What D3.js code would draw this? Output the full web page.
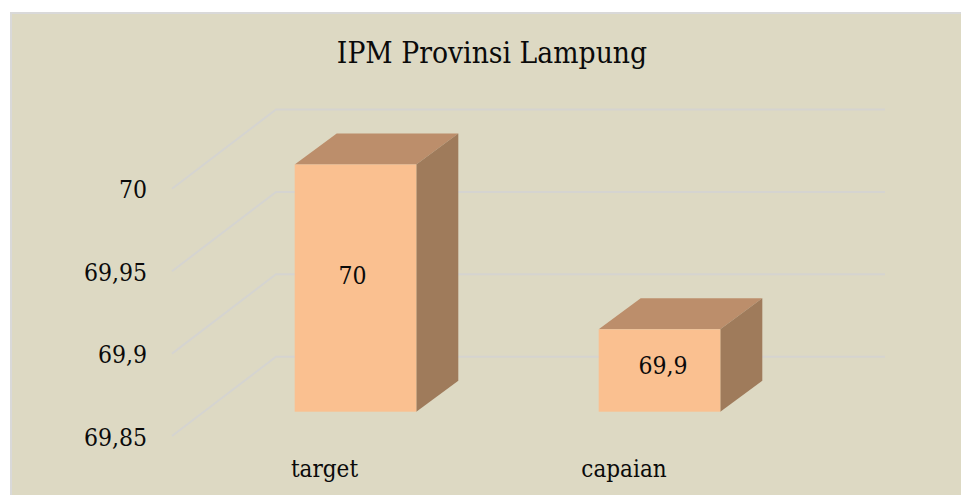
<!DOCTYPE html>
<html><head><meta charset="utf-8">
<script src="https://cdn.jsdelivr.net/npm/d3@7/dist/d3.min.js"></script>
<style>html,body{margin:0;padding:0;background:#fff}svg{display:block}
text{font-family:"DejaVu Serif Condensed","DejaVu Serif","Liberation Serif",serif;fill:#0a0a0a}</style>
</head><body><svg id="c" width="961" height="495"></svg>
<script>
const chartTitle = "IPM Provinsi Lampung";
const categories = ["target", "capaian"];
const values = [70, 69.9];
const valueLabels = ["70", "69,9"];
const ticks = [69.85, 69.9, 69.95, 70];
const tickLabels = ["69,85", "69,9", "69,95", "70"];

const svg = d3.select("#c");
const fmtTicks = new Map(ticks.map((t, i) => [t, tickLabels[i]]));

// Layout of the pseudo-3D plot
const y = d3.scaleLinear().domain([69.85, 70]).range([411.7, 164.5]);
const x = d3.scaleBand().domain(categories).range([203.5, 811.5]).paddingInner(0.6).paddingOuter(0.3);
const xLabel = d3.scalePoint().domain(categories).range([324.5, 624]);
const depth = {dx: 42, dy: 31};
const wall = {x0: 172, x1: 276, x2: 885, front: 24.3, back: 55};

// Panel
svg.append("rect").attr("x", 11).attr("y", 13).attr("width", 952).attr("height", 484)
  .attr("fill", "#ddd9c3").attr("stroke", "#d9d9d9").attr("stroke-width", 2);

// Gridlines
svg.append("g").selectAll("polyline").data(ticks).join("polyline")
  .attr("points", d => {
    const yy = y(d);
    return [[wall.x0, yy + wall.front], [wall.x1, yy - wall.back], [wall.x2, yy - wall.back]].join(" ");
  })
  .attr("fill", "none").attr("stroke", "#d5d4d0").attr("stroke-width", 2);

// Tick labels
svg.append("g").selectAll("text").data(ticks).join("text")
  .attr("x", 147).attr("y", d => y(d) + wall.front + 9.5)
  .attr("text-anchor", "end").attr("font-size", 24.5)
  .text(d => fmtTicks.get(d));

// Bars
const base = y.domain()[0];
const bars = svg.append("g").selectAll("g").data(categories.map((c, i) => ({c, v: values[i], l: valueLabels[i]}))).join("g");
const poly = (pts) => pts.map(p => p.join(",")).join(" ");
bars.append("polygon").attr("fill", "#bc8e6b").attr("points", d => {
  const a = x(d.c), b = a + x.bandwidth(), t = y(d.v);
  return poly([[a, t], [a + depth.dx, t - depth.dy], [b + depth.dx, t - depth.dy], [b, t]]);
});
bars.append("polygon").attr("fill", "#9f7b5b").attr("points", d => {
  const b = x(d.c) + x.bandwidth(), t = y(d.v), g = y(base);
  return poly([[b, t], [b + depth.dx, t - depth.dy], [b + depth.dx, g - depth.dy], [b, g]]);
});
bars.append("rect").attr("fill", "#fac090")
  .attr("x", d => x(d.c)).attr("y", d => y(d.v))
  .attr("width", x.bandwidth()).attr("height", d => y(base) - y(d.v));

// Value labels
const valueNudge = [{x: -3, y: -4}, {x: 3.5, y: 3.5}];
bars.append("text").attr("text-anchor", "middle").attr("font-size", 24.5)
  .attr("x", (d, i) => x(d.c) + x.bandwidth() / 2 + valueNudge[i].x)
  .attr("y", (d, i) => (y(d.v) + y(base)) / 2 + valueNudge[i].y)
  .text(d => d.l);

// Category labels
svg.append("g").selectAll("text").data(categories).join("text")
  .attr("x", d => xLabel(d)).attr("y", 476.5)
  .attr("text-anchor", "middle").attr("font-size", 24)
  .text(d => d);

// Title
svg.append("text").attr("x", 492).attr("y", 63).attr("text-anchor", "middle")
  .attr("font-size", 29.7).text(chartTitle);
</script></body></html>
